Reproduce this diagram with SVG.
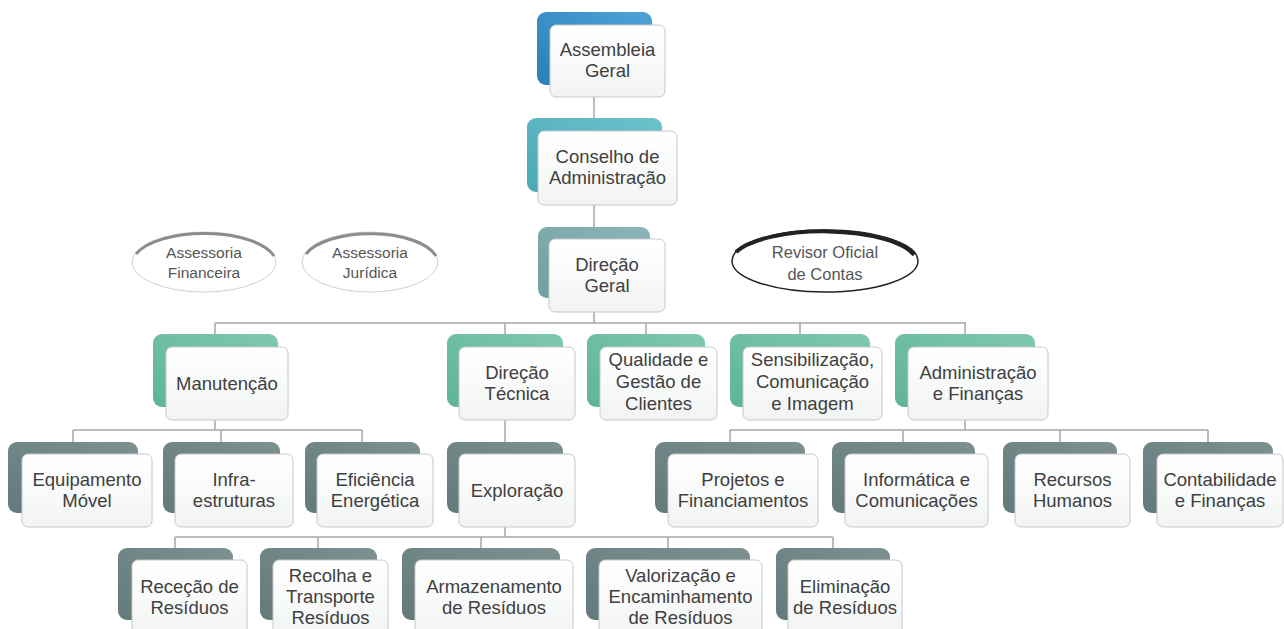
<svg xmlns="http://www.w3.org/2000/svg" width="1284" height="629" viewBox="0 0 1284 629">
<defs>
<linearGradient id="gFront" x1="0" y1="0" x2="0" y2="1"><stop offset="0" stop-color="#ffffff"/><stop offset="1" stop-color="#f2f4f4"/></linearGradient>
<linearGradient id="gBlue" x1="0" y1="1" x2="1" y2="0"><stop offset="0" stop-color="#2a7db8"/><stop offset="1" stop-color="#4fa2d6"/></linearGradient>
<linearGradient id="gTeal" x1="0" y1="1" x2="1" y2="0"><stop offset="0" stop-color="#4aa8b6"/><stop offset="1" stop-color="#6cc2cb"/></linearGradient>
<linearGradient id="gGrayTeal" x1="0" y1="1" x2="1" y2="0"><stop offset="0" stop-color="#6e9ea3"/><stop offset="1" stop-color="#8db5b9"/></linearGradient>
<linearGradient id="gGreen" x1="0" y1="1" x2="1" y2="0"><stop offset="0" stop-color="#5fb496"/><stop offset="1" stop-color="#7fc8b0"/></linearGradient>
<linearGradient id="gSlate" x1="0" y1="1" x2="1" y2="0"><stop offset="0" stop-color="#64797a"/><stop offset="1" stop-color="#7c9190"/></linearGradient>
</defs>
<style>
.back{stroke:none}
.front{fill:url(#gFront);stroke:#c6c9c9;stroke-width:1}
.t{font-family:"Liberation Sans",Arial,sans-serif;font-size:18.5px;fill:#404040;text-anchor:middle}
.te{font-family:"Liberation Sans",Arial,sans-serif;font-size:15.5px;fill:#555;text-anchor:middle}
.conn path{fill:none;stroke:#a3a8a8;stroke-width:1.5}
.ell{fill:#fff;stroke:#d0d0d0;stroke-width:1}
</style>
<rect width="1284" height="629" fill="#ffffff"/>

<g id="connectors" class="conn">
<path d="M594,97V118"/>
<path d="M594,205V227"/>
<path d="M594,312V323"/>
<path d="M215,323H966"/>
<path d="M215,323V334M505,323V334M646,323V334M800,323V334M965,323V334"/>
<path d="M215,420V430M73,430H362M73,430V442M221,430V442M362,430V442"/>
<path d="M505,420V442"/>
<path d="M965,420V430M730,430H1208M730,430V442M903,430V442M1060,430V442M1208,430V442"/>
<path d="M505,527V537M175,537H833M175,537V548M318,537V548M481,537V548M668,537V548M833,537V548"/>
</g>

<g id="assembleia-geral">
<rect class="back" x="537" y="12" width="115" height="73" rx="9" fill="url(#gBlue)"/>
<rect class="front" x="550" y="25" width="115" height="72" rx="6"/>
<text class="t" x="607.5" y="56">Assembleia</text>
<text class="t" x="607.5" y="77">Geral</text>
</g>

<g id="conselho-administracao">
<rect class="back" x="527" y="118" width="135" height="74" rx="9" fill="url(#gTeal)"/>
<rect class="front" x="538" y="131" width="139" height="74" rx="6"/>
<text class="t" x="607.5" y="163">Conselho de</text>
<text class="t" x="607.5" y="184">Administração</text>
</g>

<g id="direcao-geral">
<rect class="back" x="538" y="227" width="112" height="71" rx="9" fill="url(#gGrayTeal)"/>
<rect class="front" x="549" y="239" width="116" height="73" rx="6"/>
<text class="t" x="607" y="271">Direção</text>
<text class="t" x="607" y="292">Geral</text>
</g>

<g id="assessoria-financeira">
<ellipse class="ell" cx="204" cy="262" rx="72" ry="30"/>
<path d="M136,254 A72,30 0 0 1 274,256" fill="none" stroke="#8c8c8c" stroke-width="3"/>
<text class="te" x="204" y="258">Assessoria</text>
<text class="te" x="204" y="278">Financeira</text>
</g>

<g id="assessoria-juridica">
<ellipse class="ell" cx="370" cy="262" rx="68" ry="30"/>
<path d="M306,254 A68,30 0 0 1 436,256" fill="none" stroke="#8c8c8c" stroke-width="3"/>
<text class="te" x="370" y="258">Assessoria</text>
<text class="te" x="370" y="278">Jurídica</text>
</g>

<g id="revisor-oficial-contas">
<ellipse cx="825" cy="261" rx="93" ry="31" fill="#fff" stroke="#222" stroke-width="1.5"/>
<path d="M736,252 A93,31 0 0 1 914,255" fill="none" stroke="#222" stroke-width="4"/>
<text class="te" x="825" y="258" style="font-size:16.5px">Revisor Oficial</text>
<text class="te" x="825" y="280" style="font-size:16.5px">de Contas</text>
</g>

<g id="manutencao">
<rect class="back" x="153" y="334" width="125" height="73" rx="9" fill="url(#gGreen)"/>
<rect class="front" x="166" y="347" width="122" height="73" rx="6"/>
<text class="t" x="227" y="390">Manutenção</text>
</g>

<g id="direcao-tecnica">
<rect class="back" x="447" y="334" width="116" height="73" rx="9" fill="url(#gGreen)"/>
<rect class="front" x="459" y="347" width="116" height="73" rx="6"/>
<text class="t" x="517" y="379">Direção</text>
<text class="t" x="517" y="400">Técnica</text>
</g>

<g id="qualidade-gestao-clientes">
<rect class="back" x="587" y="334" width="118" height="73" rx="9" fill="url(#gGreen)"/>
<rect class="front" x="600" y="347" width="117" height="73" rx="6"/>
<text class="t" x="658.5" y="366">Qualidade e</text>
<text class="t" x="658.5" y="388">Gestão de</text>
<text class="t" x="658.5" y="410">Clientes</text>
</g>

<g id="sensibilizacao">
<rect class="back" x="730" y="334" width="140" height="73" rx="9" fill="url(#gGreen)"/>
<rect class="front" x="743" y="347" width="139" height="73" rx="6"/>
<text class="t" x="812.5" y="366">Sensibilização,</text>
<text class="t" x="812.5" y="388">Comunicação</text>
<text class="t" x="812.5" y="410">e Imagem</text>
</g>

<g id="administracao-financas">
<rect class="back" x="895" y="334" width="140" height="73" rx="9" fill="url(#gGreen)"/>
<rect class="front" x="908" y="347" width="140" height="73" rx="6"/>
<text class="t" x="978" y="379">Administração</text>
<text class="t" x="978" y="400">e Finanças</text>
</g>

<g id="equipamento-movel">
<rect class="back" x="8" y="442" width="130" height="71" rx="9" fill="url(#gSlate)"/>
<rect class="front" x="22" y="454" width="130" height="73" rx="6"/>
<text class="t" x="87" y="486">Equipamento</text>
<text class="t" x="87" y="507">Móvel</text>
</g>

<g id="infraestruturas">
<rect class="back" x="163" y="442" width="117" height="71" rx="9" fill="url(#gSlate)"/>
<rect class="front" x="175" y="454" width="118" height="73" rx="6"/>
<text class="t" x="234" y="486">Infra-</text>
<text class="t" x="234" y="507">estruturas</text>
</g>

<g id="eficiencia-energetica">
<rect class="back" x="305" y="442" width="115" height="71" rx="9" fill="url(#gSlate)"/>
<rect class="front" x="317" y="454" width="116" height="73" rx="6"/>
<text class="t" x="375" y="486">Eficiência</text>
<text class="t" x="375" y="507">Energética</text>
</g>

<g id="exploracao">
<rect class="back" x="447" y="442" width="116" height="71" rx="9" fill="url(#gSlate)"/>
<rect class="front" x="459" y="454" width="116" height="73" rx="6"/>
<text class="t" x="517" y="497">Exploração</text>
</g>

<g id="projetos-financiamentos">
<rect class="back" x="655" y="442" width="150" height="71" rx="9" fill="url(#gSlate)"/>
<rect class="front" x="668" y="454" width="150" height="73" rx="6"/>
<text class="t" x="743" y="486">Projetos e</text>
<text class="t" x="743" y="507">Financiamentos</text>
</g>

<g id="informatica-comunicacoes">
<rect class="back" x="832" y="442" width="143" height="71" rx="9" fill="url(#gSlate)"/>
<rect class="front" x="845" y="454" width="143" height="73" rx="6"/>
<text class="t" x="916.5" y="486">Informática e</text>
<text class="t" x="916.5" y="507">Comunicações</text>
</g>

<g id="recursos-humanos">
<rect class="back" x="1003" y="442" width="114" height="71" rx="9" fill="url(#gSlate)"/>
<rect class="front" x="1015" y="454" width="115" height="73" rx="6"/>
<text class="t" x="1072.5" y="486">Recursos</text>
<text class="t" x="1072.5" y="507">Humanos</text>
</g>

<g id="contabilidade-financas">
<rect class="back" x="1143" y="442" width="130" height="71" rx="9" fill="url(#gSlate)"/>
<rect class="front" x="1157" y="454" width="126" height="73" rx="6"/>
<text class="t" x="1220" y="486">Contabilidade</text>
<text class="t" x="1220" y="507">e Finanças</text>
</g>

<g id="rececao-residuos">
<rect class="back" x="118" y="548" width="115" height="72" rx="9" fill="url(#gSlate)"/>
<rect class="front" x="132" y="560" width="115" height="75" rx="6"/>
<text class="t" x="189.5" y="593">Receção de</text>
<text class="t" x="189.5" y="614">Resíduos</text>
</g>

<g id="recolha-transporte">
<rect class="back" x="260" y="548" width="117" height="72" rx="9" fill="url(#gSlate)"/>
<rect class="front" x="273" y="560" width="115" height="75" rx="6"/>
<text class="t" x="330.5" y="582">Recolha e</text>
<text class="t" x="330.5" y="603">Transporte</text>
<text class="t" x="330.5" y="624">Resíduos</text>
</g>

<g id="armazenamento-residuos">
<rect class="back" x="402" y="548" width="158" height="72" rx="9" fill="url(#gSlate)"/>
<rect class="front" x="415" y="560" width="158" height="75" rx="6"/>
<text class="t" x="494" y="593">Armazenamento</text>
<text class="t" x="494" y="614">de Resíduos</text>
</g>

<g id="valorizacao-encaminhamento">
<rect class="back" x="586" y="548" width="164" height="72" rx="9" fill="url(#gSlate)"/>
<rect class="front" x="599" y="560" width="163" height="75" rx="6"/>
<text class="t" x="680.5" y="582">Valorização e</text>
<text class="t" x="680.5" y="603">Encaminhamento</text>
<text class="t" x="680.5" y="624">de Resíduos</text>
</g>

<g id="eliminacao-residuos">
<rect class="back" x="776" y="548" width="114" height="72" rx="9" fill="url(#gSlate)"/>
<rect class="front" x="788" y="560" width="114" height="75" rx="6"/>
<text class="t" x="845" y="593">Eliminação</text>
<text class="t" x="845" y="614">de Resíduos</text>
</g>
</svg>
